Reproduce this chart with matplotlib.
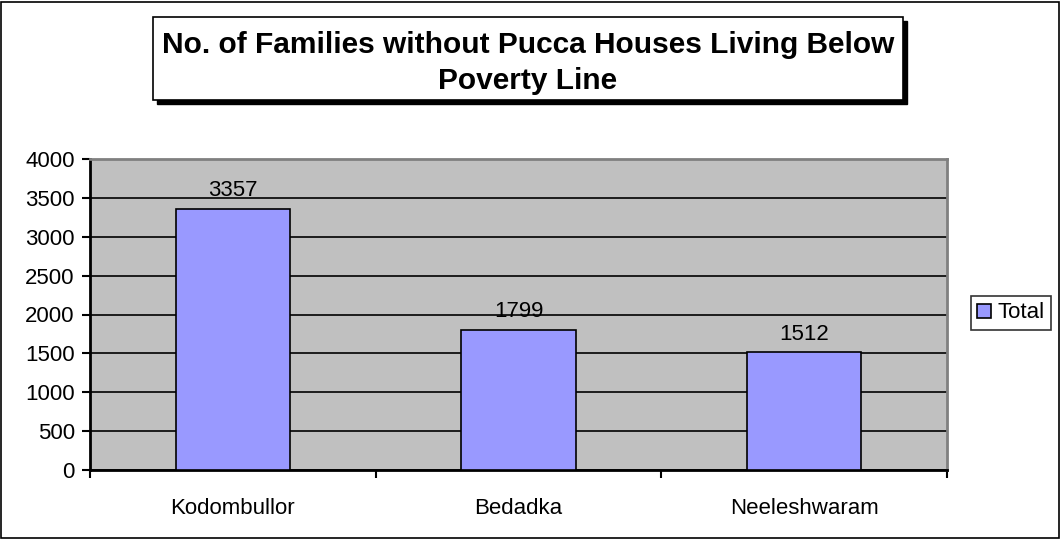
import matplotlib.pyplot as plt
from matplotlib.patches import Rectangle

plt.rcParams['font.family'] = ['Liberation Sans', 'DejaVu Sans']

# data
places = ['Kodombullor', 'Bedadka', 'Neeleshwaram']
totals = [3357, 1799, 1512]
title = 'No. of Families without Pucca Houses Living Below\nPoverty Line'

W, H = 1061, 539
fig = plt.figure(figsize=(W / 100, H / 100), dpi=100)

# outer frame of the chart
fig.patches.append(Rectangle((1 / W, 1 / H), 1 - 3 / W, 1 - 3 / H, transform=fig.transFigure,
                             fill=False, edgecolor='black', linewidth=1.2))

# title box with shadow
bx0, by0, bx1, by1 = 153, 17, 903, 100
sh = 4
fig.patches.append(Rectangle(((bx0 + sh) / W, 1 - (by1 + sh) / H), (bx1 - bx0) / W, (by1 - by0) / H,
                             transform=fig.transFigure, facecolor='black', edgecolor='black', zorder=1))
fig.patches.append(Rectangle((bx0 / W, 1 - by1 / H), (bx1 - bx0) / W, (by1 - by0) / H,
                             transform=fig.transFigure, facecolor='white', edgecolor='black',
                             linewidth=1.2, zorder=2))
fig.text((bx0 + bx1) / 2 / W, 1 - 63 / H, title, ha='center', va='center',
         fontsize=21.5, fontweight='bold', linespacing=1.4, zorder=3)

ax = fig.add_axes([90 / W, 1 - 470 / H, (947 - 90) / W, (470 - 159) / H])
ax.set_facecolor('#C0C0C0')

x = list(range(len(places)))
bars = ax.bar(x, totals, width=0.4, color='#9999FF', edgecolor='black', linewidth=1.2,
              label='Total', zorder=3)
for xi, v in zip(x, totals):
    ax.text(xi, v + 100, str(v), ha='center', va='bottom', fontsize=16, zorder=4)

ax.set_xlim(-0.5, len(places) - 0.5)
ax.set_ylim(0, 4000)
ax.set_yticks(range(0, 4001, 500))
ax.yaxis.grid(True, color='black', linewidth=1.2, zorder=1)
ax.set_axisbelow(True)

ax.set_xticks(x)
ax.set_xticklabels(places, fontsize=16)
ax.tick_params(axis='x', which='major', length=0, pad=20)
ax.set_xticks([i - 0.5 for i in range(len(places) + 1)], minor=True)
ax.tick_params(axis='x', which='minor', length=6, width=1.5, direction='out')
ax.tick_params(axis='y', length=6, width=1.5, labelsize=16, pad=5)

for s in ['left', 'bottom']:
    ax.spines[s].set_color('black')
    ax.spines[s].set_linewidth(2)
for s in ['top', 'right']:
    ax.spines[s].set_color('#808080')
    ax.spines[s].set_linewidth(2)

leg = fig.legend(handles=[bars], labels=['Total'], loc='center',
                 bbox_to_anchor=(1011 / W, 1 - 313 / H), fontsize=16, frameon=True,
                 fancybox=False, edgecolor='black', handlelength=0.6, handleheight=0.6,
                 handletextpad=0.3, borderpad=0.3, borderaxespad=0)
leg.get_frame().set_linewidth(1.2)

fig.savefig('out.png', dpi=100)
